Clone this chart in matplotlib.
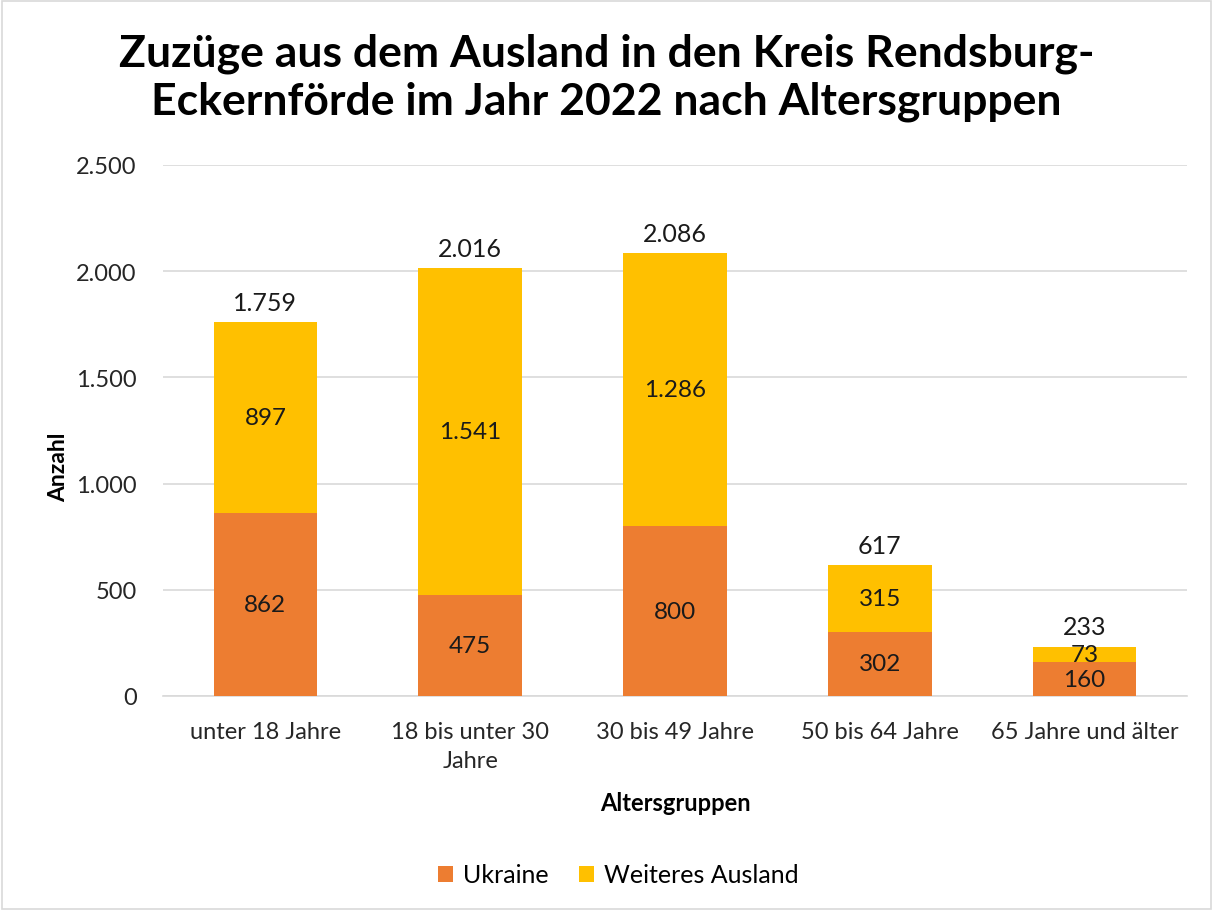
import matplotlib.pyplot as plt
from matplotlib.patches import Rectangle
from matplotlib.ticker import FuncFormatter
import numpy as np

# data
categories = ["unter 18 Jahre", "18 bis unter 30\nJahre", "30 bis 49 Jahre", "50 bis 64 Jahre", "65 Jahre und älter"]
ukraine = [862, 475, 800, 302, 160]
weiteres = [897, 1541, 1286, 315, 73]
totals = [1759, 2016, 2086, 617, 233]


def de_fmt(v):
    return f"{int(v):,}".replace(",", ".")


plt.rcParams['font.family'] = ['Lato', 'DejaVu Sans']

fig = plt.figure(figsize=(12.13, 9.12), dpi=100)
ax = fig.add_axes([163 / 1213, 1 - 697 / 912, (1187 - 163) / 1213, (697 - 166) / 912])

x = np.arange(len(categories))
width = 0.505
c_ukr = '#ED7D31'
c_wei = '#FFC000'

ax.bar(x, ukraine, width, color=c_ukr, label='Ukraine', zorder=3)
ax.bar(x, weiteres, width, bottom=ukraine, color=c_wei, label='Weiteres Ausland', zorder=3)

# labels inside the segments and totals on top
for xi, u, w, t in zip(x, ukraine, weiteres, totals):
    ax.text(xi, u / 2, de_fmt(u), ha='center', va='center', fontsize=17.5, color='#1a1a1a', zorder=4)
    ax.text(xi, u + w / 2, de_fmt(w), ha='center', va='center', fontsize=17.5, color='#1a1a1a', zorder=4)
    ax.text(xi, t + 38, de_fmt(t), ha='center', va='bottom', fontsize=18, color='#1a1a1a', zorder=4)

ax.set_ylim(0, 2500)
ax.set_xlim(-0.5, len(categories) - 0.5)
ax.set_yticks(np.arange(0, 2501, 500))
ax.yaxis.set_major_formatter(FuncFormatter(lambda v, p: de_fmt(v)))
ax.grid(axis='y', color='#D9D9D9', linewidth=1.2, zorder=0)
for s in ['top', 'right', 'left']:
    ax.spines[s].set_visible(False)
ax.spines['bottom'].set_color('#D9D9D9')
ax.spines['bottom'].set_linewidth(1.2)
ax.tick_params(axis='both', length=0, labelsize=17, colors='#262626')
ax.tick_params(axis='x', pad=18)
ax.tick_params(axis='y', pad=19)
ax.set_xticks(x)
ax.set_xticklabels(categories, linespacing=1.45)

ax.set_ylabel('Anzahl', fontsize=16.5, fontweight='bold')
ax.yaxis.set_label_coords(-0.092, 0.433)
ax.set_xlabel('Altersgruppen', fontsize=17, fontweight='bold')
ax.xaxis.set_label_coords(0.5, -(792 - 697) / 531)

fig.text(0.5, 1 - 77.5 / 912,
         'Zuzüge aus dem Ausland in den Kreis Rendsburg-\nEckernförde im Jahr 2022 nach Altersgruppen',
         ha='center', va='center', fontsize=32, fontweight='bold', linespacing=1.24)

fig.legend(loc='center', bbox_to_anchor=(0.5 + 12 / 1213, 1 - 876 / 912), ncol=2, frameon=False,
           fontsize=18, handlelength=0.6, handleheight=0.6, columnspacing=1.2, handletextpad=0.4)

# light border around the chart
fig.patches.append(Rectangle((0.002, 0.002), 0.996, 0.996, transform=fig.transFigure,
                             fill=False, edgecolor='#D9D9D9', linewidth=1.2))

fig.savefig('out.png', dpi=100)
